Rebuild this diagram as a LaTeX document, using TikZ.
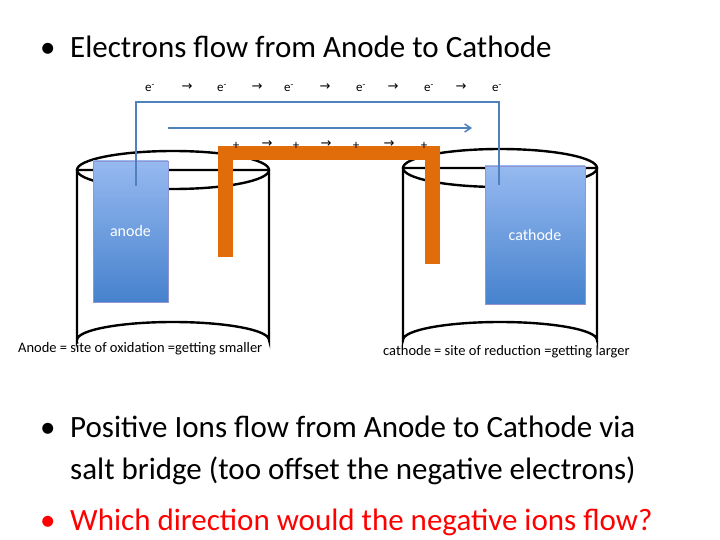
\documentclass[tikz,border=0pt]{standalone}
\usepackage{fontspec}
\usetikzlibrary{arrows.meta}
\setmainfont{Carlito}
\newfontfamily\djv{DejaVu Sans}
\begin{document}
\begin{tikzpicture}[x=1pt,y=-1pt,
  big/.style={anchor=base west,inner sep=0pt,font=\fontsize{31}{34}\selectfont},
  small/.style={anchor=base west,inner sep=0pt,font=\fontsize{14.5}{16}\selectfont},
  elab/.style={inner sep=0pt,font=\fontsize{13}{14}\selectfont},
  beaker/.style={draw=black,line width=2.4pt,fill=white},
  electrode/.style={draw=blue!40!gray!60,top color={rgb,255:red,150;green,185;blue,240},bottom color={rgb,255:red,70;green,130;blue,205},inner sep=0pt,font=\fontsize{16}{18}\selectfont,text=white},
  bridge/.style={fill={rgb,255:red,225;green,108;blue,10}},
  wire/.style={draw={rgb,255:red,79;green,129;blue,189},line width=1.5pt}]
\useasboundingbox (0,0) rectangle (720,540);
% title
\node[big] (b1) at (40,58) {•};
\node[big] (t1) at (70,58) {Electrons flow from Anode to Cathode};
% beakers
\path[beaker] (77,170) -- (77,340) arc[start angle=180,end angle=360,x radius=96,y radius=18] -- (269,170) -- cycle;
\draw[beaker,fill=none] (173,170) ellipse[x radius=96,y radius=19];
\path[beaker] (403,168) -- (403,340) arc[start angle=180,end angle=360,x radius=97,y radius=18] -- (597,168) -- cycle;
\draw[beaker,fill=none] (500,168) ellipse[x radius=97,y radius=19];
% electrodes
\node[electrode,minimum width=75,minimum height=141] (an) at (130.5,231.5) {anode};
\node[electrode,minimum width=100,minimum height=138] (ca) at (535,235) {cathode};
% salt bridge
\fill[bridge] (218,146) rectangle (440,160);
\fill[bridge] (218,146) rectangle (233,257);
\fill[bridge] (425,146) rectangle (440,264);
% wire
\coordinate (w1) at (136,186); \coordinate (w2) at (499,185); \coordinate (wt) at (0,102);
\draw[wire] (w1) -- (w1 |- wt) -| (w2);
\coordinate (fa) at (168,128); \coordinate (fb) at (472,128);
\draw[wire,-{Straight Barb[length=6pt,width=8pt]}] (fa) -- (fb);
% electrons
\foreach \x/\n in {150/1,222/2,289/3,361/4,429/5,497/6}{\node[elab] (e\n) at (\x,88) {e\textsuperscript{-}};}
\foreach \x/\n in {187/1,257/2,325/3,393/4,461/5}{\node[elab] (ea\n) at (\x,87) {\djv →};}
% plus signs
\foreach \x/\n in {236/1,296/2,356/3,424/4}{\node[elab] (p\n) at (\x,146) {+};}
\foreach \x/\n in {267/1,326/2,389/3}{\node[elab] (pa\n) at (\x,144) {\djv →};}
% captions
\node[small] (c1) at (18,352) {Anode = site of oxidation =getting smaller};
\node[small] (c2) at (383,355) {cathode = site of reduction =getting larger};
% bullets
\node[big] (b2) at (40,437) {•};
\node[big] (t2) at (70,437) {Positive Ions flow from Anode to Cathode via};
\node[big] (t3) at (70,479) {salt bridge (too offset the negative electrons)};
\node[big,text=red] (b3) at (40,530) {•};
\node[big,text=red] (t4) at (70,530) {Which direction would the negative ions flow?};
\end{tikzpicture}
\end{document}
